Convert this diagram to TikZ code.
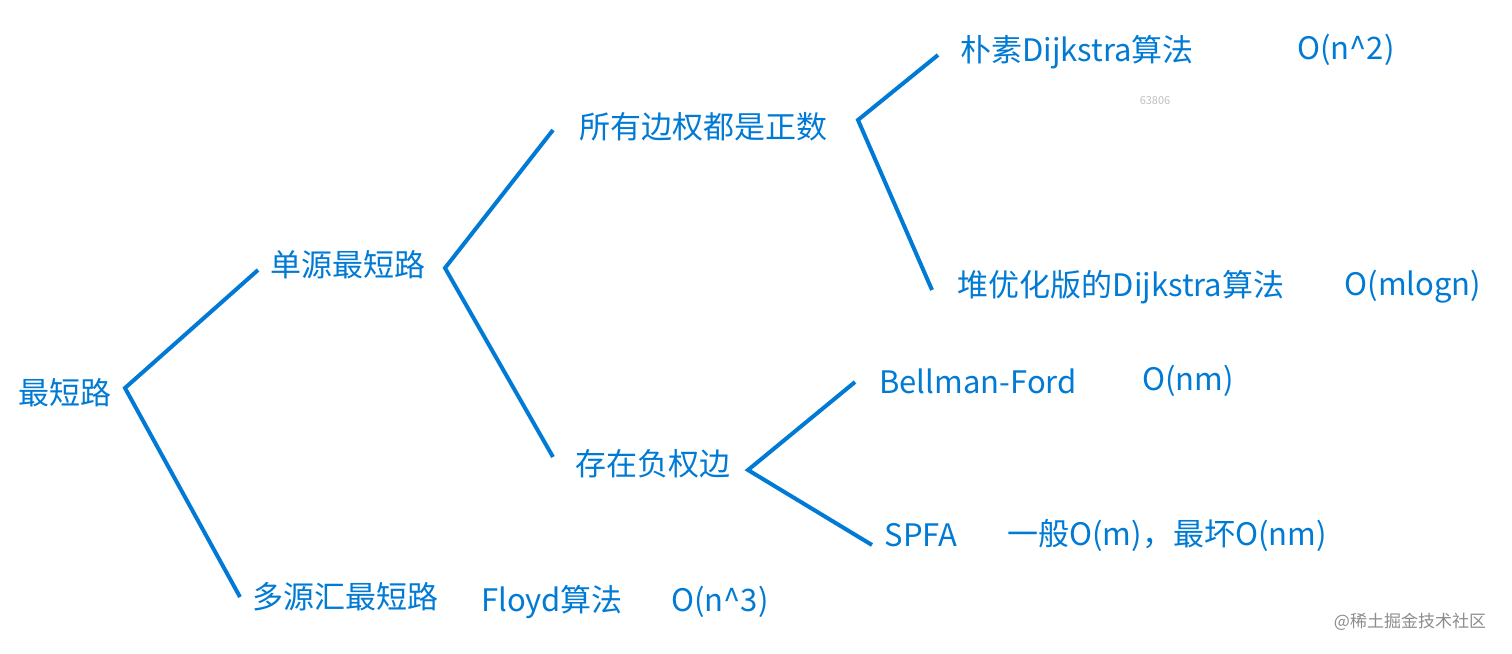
\documentclass[tikz,border=0pt]{standalone}
\usepackage{fontspec}
\setmainfont{Noto Sans CJK SC}
\definecolor{blu}{RGB}{0,122,212}
\begin{document}
\begin{tikzpicture}[x=1pt,y=-1pt,
  t/.style={text=blu,font=\fontsize{31}{34}\selectfont,inner sep=0pt,anchor=center},
  l/.style={draw=blu,line width=4pt}]
\useasboundingbox (0,0) rectangle (1512,653);
\node[t] (root) at (65,393) {最短路};
\node[t] (ss) at (348,265) {单源最短路};
\node[t] (ms) at (345,597) {多源汇最短路};
\node[t] (fl) at (552,602) {Floyd算法};
\node[t] (fo) at (720,602) {O(n\^{}3)};
\node[t] (pos) at (703,127) {所有边权都是正数};
\node[t] (neg) at (653,464) {存在负权边};
\node[t] (d1) at (1077,52) {朴素Dijkstra算法};
\node[t] (d1o) at (1346,50) {O(n\^{}2)};
\node[t] (d2) at (1121,287) {堆优化版的Dijkstra算法};
\node[t] (d2o) at (1413,287) {O(mlogn)};
\node[t] (bf) at (978,381) {Bellman-Ford};
\node[t] (bfo) at (1188,381) {O(nm)};
\node[t] (sp) at (921,535) {SPFA};
\node[t] (spo) at (1167,535) {一般O(m)，最坏O(nm)};
\node[text=black!25,font=\fontsize{11}{12}\selectfont] (n) at (1155,101) {63806};
\node[text=black!45,font=\fontsize{17}{18}\selectfont] (wm) at (1410,622) {@稀土掘金技术社区};
\coordinate (r0) at (125,388); \coordinate (r1) at (258,270); \coordinate (r2) at (240,597);
\coordinate (s0) at (445,268); \coordinate (s1) at (553,130); \coordinate (s2) at (553,457);
\coordinate (p0) at (858,120); \coordinate (p1) at (938,55); \coordinate (p2) at (932,290);
\coordinate (n0) at (748,470); \coordinate (n1) at (855,382); \coordinate (n2) at (872,545);
\draw[l] (r1) -- (r0) -- (r2);
\draw[l] (s1) -- (s0) -- (s2);
\draw[l] (p1) -- (p0) -- (p2);
\draw[l] (n1) -- (n0) -- (n2);
\end{tikzpicture}
\end{document}
